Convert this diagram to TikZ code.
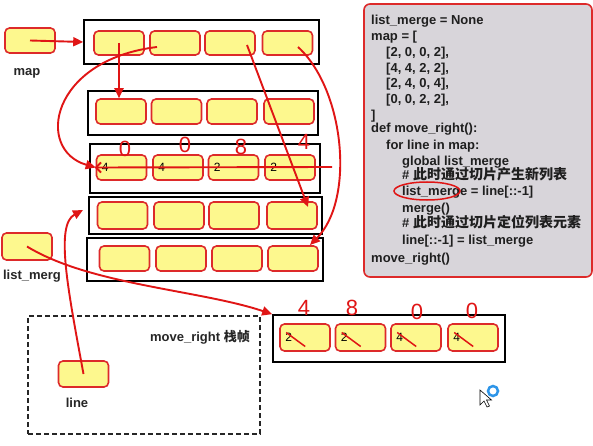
\documentclass[tikz,border=0pt]{standalone}
\usepackage{fontspec}
\setmainfont{Liberation Sans}
\newfontfamily\cjk{Noto Sans CJK SC}
\usetikzlibrary{arrows.meta,shapes.geometric}
\definecolor{cellyellow}{HTML}{FDF88E}
\definecolor{cellred}{HTML}{DD2A2A}
\definecolor{inkred}{HTML}{E01515}
\definecolor{panelgray}{HTML}{D8D5DA}
\definecolor{ringblue}{HTML}{2E95E8}
\begin{document}
\begin{tikzpicture}[x=1pt,y=-1pt,
 cell/.style={draw=cellred, fill=cellyellow, line width=1.6pt, rounded corners=4.5pt, minimum width=50pt, minimum height=25pt, inner sep=0pt},
 frame/.style={draw=black, line width=1.6pt, inner sep=0pt},
 lbl/.style={font=\fontsize{13}{15}\selectfont\bfseries, text=black!85, inner sep=0pt},
 code/.style={font=\fontsize{13}{15}\selectfont\bfseries, text=black!88, anchor=base west, inner sep=0pt},
 cjkcode/.style={font=\fontsize{13}{15}\selectfont\bfseries, text=black!88, anchor=base west, inner sep=0pt},
 num/.style={font=\fontsize{12}{14}\selectfont, anchor=west, inner sep=0pt},
 hand/.style={font=\fontsize{22}{24}\selectfont, text=inkred, inner sep=0pt},
 ink/.style={draw=inkred, line width=1.9pt},
 arr/.style={ink, -{Triangle[length=10pt,width=9pt]}},
]
\useasboundingbox[fill=white] (0,0) rectangle (593,446);

% code panel
\node[draw=cellred, fill=panelgray, line width=1.6pt, rounded corners=6pt, minimum width=228pt, minimum height=273pt, inner sep=0pt] (panel) at (478,140.5) {};
\node[code] (c1) at (371,25) {list\_merge = None};
\node[code] (c2) at (371,41) {map = [};
\node[code] (c3) at (386,57) {[2, 0, 0, 2],};
\node[code] (c4) at (386,73) {[4, 4, 2, 2],};
\node[code] (c5) at (386,88) {[2, 4, 0, 4],};
\node[code] (c6) at (386,104) {[0, 0, 2, 2],};
\node[code] (c7) at (371,120) {]};
\node[code] (c8) at (371,133) {def move\_right():};
\node[code] (c9) at (386,150) {for line in map:};
\node[code] (c10) at (402,166) {global list\_merge};
\node[cjkcode] (c11) at (402,180) {\# {\cjk\fontsize{14}{16}\selectfont\bfseries 此时通过切片产生新列表}};
\node[code] (c12) at (402,196) {list\_merge = line[::-1]};
\node[code] (c13) at (402,212) {merge()};
\node[cjkcode] (c14) at (402,227) {\# {\cjk\fontsize{14}{16}\selectfont\bfseries 此时通过切片定位列表元素}};
\node[code] (c15) at (402,244) {line[::-1] = list\_merge};
\node[code] (c16) at (371,262) {move\_right()};
\draw[ink, line width=1.5pt] (427,191) ellipse [x radius=33pt, y radius=9pt];

% frames
\node[frame, minimum width=235pt, minimum height=44pt] (f1) at (201.5,42) {};
\node[frame, minimum width=230pt, minimum height=44pt] (f2) at (203,113) {};
\node[frame, minimum width=230pt, minimum height=49pt] (f3) at (205,168.5) {};
\node[frame, minimum width=233pt, minimum height=37pt] (f4) at (205.5,215.5) {};
\node[frame, minimum width=236pt, minimum height=43pt] (f5) at (205,259.5) {};
\node[frame, minimum width=232pt, minimum height=47pt] (fr) at (389,338.5) {};
\node[draw=black!85, dashed, dash pattern=on 5pt off 3pt, line width=1.6pt, minimum width=232pt, minimum height=118pt, inner sep=0pt] (stack) at (144,375) {};

% cells
\foreach \x [count=\i] in {119,175,230,287.5} \node[cell, minimum height=24pt] (r1c\i) at (\x,43) {};
\foreach \x [count=\i] in {121,176.5,232,289} \node[cell] (r2c\i) at (\x,111.5) {};
\foreach \x [count=\i] in {121.5,178,233.5,290} \node[cell] (r3c\i) at (\x,167.5) {};
\foreach \x [count=\i] in {122.5,179,234,292} \node[cell, minimum height=27pt] (r4c\i) at (\x,215.5) {};
\foreach \x [count=\i] in {124.5,181,237,293} \node[cell] (r5c\i) at (\x,258.5) {};
\foreach \x [count=\i] in {305,360.5,416,473} \node[cell, minimum height=27pt] (rc\i) at (\x,337.5) {};
\node[cell] (mapbox) at (30,40.5) {};
\node[cell, minimum height=27pt] (lmbox) at (27,246.5) {};
\node[cell, minimum height=26pt] (linebox) at (83.5,374) {};

% cell numbers
\foreach \v [count=\i] in {4,4,2,2} \node[num] (n3c\i) at ([xshift=6pt]r3c\i.west) {\v};
\foreach \v [count=\i] in {2,2,4,4} \node[num] (nrc\i) at ([xshift=6pt]rc\i.west) {\v};

% labels
\node[lbl] (maplbl) at (27,73) {map};
\node[lbl] (lmlbl) at (32,276) {list\_merg};
\node[lbl] (linelbl) at (77,403) {line};
\node[lbl, anchor=east] (stacklbl) at (250,337) {move\_right {\cjk\bfseries 栈帧}};

% arrows
\coordinate (a3s) at (157,47);
\coordinate (a4s) at (247,45);
\coordinate (a4e) at (308,207);
\coordinate (a5s) at (298,47);
\coordinate (a5e) at (310,245);
\coordinate (h3s) at (332,167);
\coordinate (a9e) at (83,210);
\draw[arr] (mapbox.center) -- (f1.west);
\draw[arr] (r1c1.center) -- (r1c1.center |- r2c1.north);
\draw[arr] (a3s) .. controls (50,60) and (35,150) .. (r3c1.west);
\draw[arr] (a4s) -- (a4e);
\draw[arr] (a5s) .. controls (345,90) and (355,200) .. (a5e);
\draw[ink, -{Straight Barb[length=5pt,width=10pt]}] (h3s) -- ([xshift=-1pt]r3c1.west);
\draw[arr] (lmbox.center) .. controls (90,285) and (200,290) .. (fr.north west);
\draw[arr] (linebox.center) .. controls (68,290) and (55,225) .. (a9e);

% strike strokes
\foreach \i in {1,...,4} \draw[ink, line width=1.5pt] ([shift={(7,-5)}]rc\i.west) -- ++(19,14);

% handwritten numbers
\node[hand] (w1) at (125,149) {0};
\node[hand] (w2) at (185,145) {0};
\node[hand] (w3) at (241,147) {8};
\node[hand] (w4) at (304,142) {4};
\node[hand] (w5) at (304,308) {4};
\node[hand] (w6) at (352,308) {8};
\node[hand] (w7) at (417,312) {0};
\node[hand] (w8) at (472,311) {0};

% cursor
\draw[black, fill=white, line width=0.6pt] (480,390) -- ++(0,15) -- ++(4,-4) -- ++(3,6) -- ++(2.5,-1) -- ++(-3,-6) -- ++(5,0) -- cycle;
\draw[ringblue, line width=2.5pt] (493,391) circle[radius=5pt];
\end{tikzpicture}
\end{document}
